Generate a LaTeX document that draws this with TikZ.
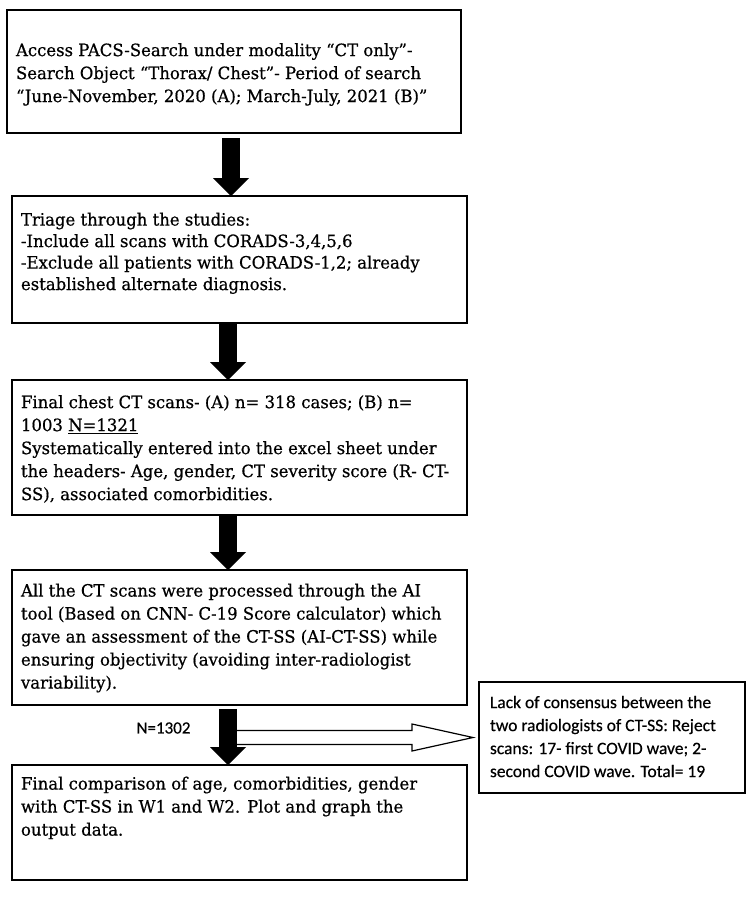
\documentclass[tikz,border=0pt]{standalone}
\usepackage{fontspec}
\setmainfont{DejaVu Serif}[FakeStretch=0.97,FakeBold=0.6]
\newfontfamily\notefont{Carlito}[FakeBold=0.4]
\usetikzlibrary{arrows.meta,calc}
\newcommand{\stagebody}[4]{\parbox[c][#1][t]{#2}{\raggedright\vspace*{#3}\strut#4}}
\tikzset{
	stage/.style={draw, line width=1.4pt, fill=white, anchor=north west, inner xsep=9pt, inner ysep=0pt, outer sep=0pt, font=\fontsize{17}{23}\selectfont},
	rejectbox/.style={stage, inner xsep=11pt, font=\notefont\fontsize{17.5}{23}\selectfont},
	blockarrow/.style={line width=18pt, -{Triangle[width=36pt,length=18pt,line width=0pt]}},
	hollowarrow/.style={line width=1.2pt, fill=white, line join=miter},
}

\begin{document}
\begin{tikzpicture}[x=1pt,y=-1pt]
			%%%%% START %%%%%
			\fill[white] (0,0) rectangle (750,900);
			\useasboundingbox (0,0) rectangle (750,900);
			
			\coordinate (upper) at (231,0);
			\coordinate (lower) at (228,0);
			
			\node[stage] (access) at (7,10) {\stagebody{123pt}{436pt}{30pt}{Access PACS-Search under modality “CT only”-\\Search Object “Thorax/ Chest”- Period of search\\“June-November, 2020 (A); March-July, 2021 (B)”}};
			
			\node[stage, font=\fontsize{17}{21.5}\selectfont] (triage) at (12,196) {\stagebody{127pt}{437pt}{14.5pt}{Triage through the studies:\\-Include all scans with CORADS-3,4,5,6\\-Exclude all patients with CORADS-1,2; already\\established alternate diagnosis.}};
			
			\node[stage] (final) at (12,380) {\stagebody{135pt}{437pt}{12pt}{Final chest CT scans- (A) n= 318 cases; (B) n=\\1003 \underline{N=1321}\\Systematically entered into the excel sheet under\\the headers- Age, gender, CT severity score (R- CT-\\SS), associated comorbidities.}};
			
			\node[stage] (aitool) at (12,570) {\stagebody{135pt}{437pt}{10.5pt}{All the CT scans were processed through the AI\\tool (Based on CNN- C-19 Score calculator) which\\gave an assessment of the CT-SS (AI-CT-SS) while\\ensuring objectivity (avoiding inter-radiologist\\variability).}};
			
			\node[stage] (compare) at (12,765) {\stagebody{115pt}{437pt}{8.5pt}{Final comparison of age, comorbidities, gender\\with CT-SS in W1 and W2. Plot and graph the\\output data.}};
			
			\node[rejectbox] (reject) at (479,682) {\stagebody{111pt}{244pt}{10pt}{Lack of consensus between the\\two radiologists of CT-SS: Reject\\scans: 17- first COVID wave; 2-\\second COVID wave. Total= 19}};
			
			\node[font=\notefont\fontsize{17}{20}\selectfont] (count) at (163.5,728) {N=1302};
			
			% side arrow to the rejected scans
			\coordinate (tip) at ($(reject.west)+(-6,0)$);
			\draw[hollowarrow] ($(lower |- tip)+(0,-7)$) -- ($(tip)+(-61,-7)$) -- ($(tip)+(-61,-13.5)$) -- (tip)
				-- ($(tip)+(-61,13.5)$) -- ($(tip)+(-61,7)$) -- ($(lower |- tip)+(0,7)$);
			
			\draw[blockarrow, shorten <=5pt] (upper |- access.south) -- (upper |- triage.north);
			\draw[blockarrow] (lower |- triage.south) -- (lower |- final.north);
			\draw[blockarrow] (lower |- final.south) -- (lower |- aitool.north);
			\draw[blockarrow, shorten <=4pt] (lower |- aitool.south) -- (lower |- compare.north);
			%%%%% END %%%%%
\end{tikzpicture}
\end{document}
